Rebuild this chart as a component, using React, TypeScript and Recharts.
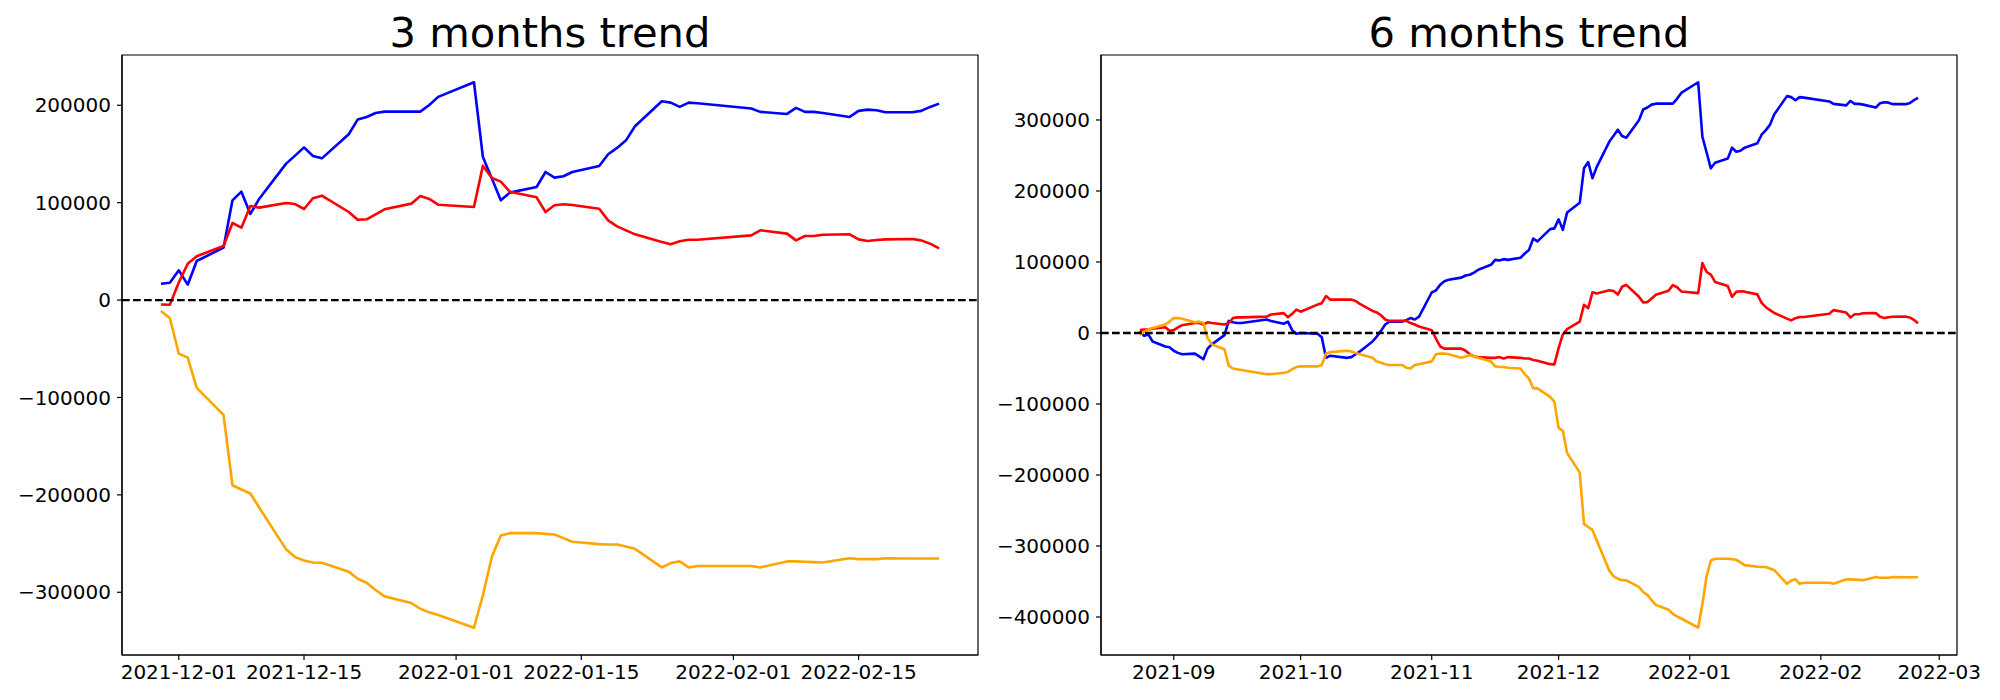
import React from 'react';
import { LineChart, Line, XAxis, YAxis, ReferenceLine, ReferenceArea } from 'recharts';

// ---------- 3 months data ----------
const dates3m = [
  '2021-11-29','2021-11-30','2021-12-01','2021-12-02','2021-12-03','2021-12-06','2021-12-07','2021-12-08','2021-12-09','2021-12-10',
  '2021-12-13','2021-12-14','2021-12-15','2021-12-16','2021-12-17','2021-12-20','2021-12-21','2021-12-22','2021-12-23','2021-12-24',
  '2021-12-27','2021-12-28','2021-12-29','2021-12-30','2022-01-03','2022-01-04','2022-01-05','2022-01-06','2022-01-07','2022-01-10',
  '2022-01-11','2022-01-12','2022-01-13','2022-01-14','2022-01-17','2022-01-18','2022-01-19','2022-01-20','2022-01-21','2022-01-24',
  '2022-01-25','2022-01-26','2022-01-27','2022-01-28','2022-02-03','2022-02-04','2022-02-07','2022-02-08','2022-02-09','2022-02-10',
  '2022-02-11','2022-02-14','2022-02-15','2022-02-16','2022-02-17','2022-02-18','2022-02-21','2022-02-22','2022-02-23','2022-02-24',
];
const blue3m = [
  16800,17800,30500,15800,40100,53800,102400,111300,88400,104100,
  140100,148300,156800,147900,145500,170200,185300,188000,192100,193500,
  193500,193500,200300,208600,223600,146900,124700,102400,110300,116100,
  131500,125700,127100,131500,137700,149700,156200,164000,178400,204100,
  202700,198300,202700,202000,196600,193200,191100,197300,193200,193200,
  192100,188000,194200,195500,194900,192800,192800,194200,198300,201700,
];
const red3m = [
  -4500,-4800,18000,37300,44900,55500,79100,74300,96600,94900,
  99700,98600,93500,104500,107200,90400,82500,82900,88000,93200,
  99000,106800,103800,97900,95500,138000,125300,121600,111300,105500,
  90400,97300,98300,97600,93800,81800,75700,71600,67500,59600,
  57200,60300,62000,62000,66400,71600,68200,61300,65800,65800,
  67100,67500,62300,60600,61600,62300,62700,61300,57900,53100,
];
const orange3m = [
  -11200,-18400,-55000,-59100,-90200,-117900,-190100,-194500,-198600,-213200,
  -256000,-263900,-267300,-269400,-269700,-279000,-286100,-290200,-297700,-304200,
  -311100,-316900,-320600,-323400,-336400,-302900,-263600,-241700,-239300,-239300,
  -240000,-240700,-244400,-248200,-250600,-250900,-250900,-252900,-255400,-274500,
  -270000,-268300,-274500,-273100,-273100,-274500,-268300,-268300,-268700,-269000,
  -269400,-265000,-266000,-266000,-266000,-265000,-265300,-265300,-265300,-265300,
];
const xTicks3m = ['2021-12-01','2021-12-15','2022-01-01','2022-01-15','2022-02-01','2022-02-15'];
const yTicks3m = [-300000,-200000,-100000,0,100000,200000];

// ---------- 6 months data ----------
const dates6m = [
  '2021-08-24','2021-08-25','2021-08-26','2021-08-27','2021-08-30','2021-08-31',
  '2021-09-01','2021-09-02','2021-09-03','2021-09-06','2021-09-07','2021-09-08','2021-09-09','2021-09-10','2021-09-13','2021-09-14',
  '2021-09-15','2021-09-16','2021-09-17','2021-09-23','2021-09-24','2021-09-27','2021-09-28','2021-09-29','2021-09-30',
  '2021-10-01','2021-10-05','2021-10-06','2021-10-07','2021-10-08','2021-10-12','2021-10-13','2021-10-14','2021-10-15','2021-10-18',
  '2021-10-19','2021-10-20','2021-10-21','2021-10-22','2021-10-25','2021-10-26','2021-10-27','2021-10-28','2021-10-29',
  '2021-11-01','2021-11-02','2021-11-03','2021-11-04','2021-11-05','2021-11-08','2021-11-09','2021-11-10','2021-11-11','2021-11-12',
  '2021-11-15','2021-11-16','2021-11-17','2021-11-18','2021-11-19','2021-11-22','2021-11-23','2021-11-24','2021-11-25','2021-11-26',
  '2021-11-29','2021-11-30',
  ...dates3m.slice(2),
];
const blue6m = [
  3000,-4000,-2000,-12000,-19000,-20000,
  -25000,-28000,-30000,-29000,-33000,-37000,-22000,-16000,-3000,17000,
  15000,14000,14000,19000,17000,13000,16000,4000,-1000,
  0,-1000,-6000,-35000,-32000,-35000,-34000,-30000,-26000,-12000,
  -5000,3000,12000,16000,16000,18000,21000,19000,23000,
  57000,60000,68000,73000,75000,78000,81000,82000,85000,89000,
  96000,103000,102000,104000,103000,106000,112000,117000,133000,129000,
  146300,147300,
  160000,145300,169600,183300,231900,240800,217900,233600,269600,277800,
  286300,277400,275000,299700,314800,317500,321600,323000,323000,323000,
  329800,338100,
  353100,276400,254200,231900,239800,245600,261000,255200,256600,261000,
  267200,279200,285700,293500,307900,333600,332200,327800,332200,331500,
  326100,322700,320600,326800,322700,322700,321600,317500,323700,325000,
  324400,322300,322300,323700,327800,331200,
];
const red6m = [
  4000,5000,5000,6000,8000,3000,
  4000,8000,11000,14000,14000,12000,15000,14000,12000,14000,
  21000,22000,22000,23000,26000,28000,22000,27000,33000,
  30000,40000,42000,52000,47000,47000,47000,45000,41000,31000,
  29000,25000,19000,17000,17000,17000,14000,12000,9000,
  4000,-8000,-19000,-22000,-22000,-22000,-25000,-30000,-33000,-34000,
  -35000,-35000,-34000,-36000,-34000,-35000,-36000,-36000,-38000,-39000,
  -43900,-44200,
  -21400,-2100,5500,16100,39700,34900,57200,55500,60300,59200,
  54100,65100,67800,51000,43100,43500,48600,53800,59600,67400,
  64400,58500,
  56100,98600,85900,82200,71900,66100,51000,57900,58900,58200,
  54400,42400,36300,32200,28100,20200,17800,20900,22600,22600,
  27000,32200,28800,21900,26400,26400,27700,28100,22900,21200,
  22200,22900,23300,21900,18500,13700,
];
const orange6m = [
  -3000,2000,5000,7000,12000,16000,
  21000,21000,20000,15000,16000,14000,-7000,-16000,-23000,-46000,
  -50000,-51000,-52000,-58000,-58000,-56000,-55000,-51000,-48000,
  -47000,-47000,-45000,-29000,-27000,-25000,-26000,-28000,-30000,-35000,
  -40000,-42000,-44000,-45000,-45000,-49000,-50000,-45000,-44000,
  -40000,-30000,-29000,-29000,-30000,-35000,-33000,-31000,-33000,-35000,
  -40000,-47000,-48000,-48000,-49000,-50000,-58000,-64000,-78000,-78000,
  -89900,-97100,
  -133700,-137800,-168900,-196600,-268800,-273200,-277300,-291900,-334700,-342600,
  -346000,-348100,-348400,-357700,-364800,-368900,-376400,-382900,-389800,-395600,
  -399300,-402100,
  -415100,-381600,-342300,-320400,-318000,-318000,-318700,-319400,-323100,-326900,
  -329300,-329600,-329600,-331600,-334100,-353200,-348700,-347000,-353200,-351800,
  -351800,-353200,-347000,-347000,-347400,-347700,-348100,-343700,-344700,-344700,
  -344700,-343700,-344000,-344000,-344000,-344000,
];
const xTicks6m = ['2021-09-01','2021-10-01','2021-11-01','2021-12-01','2022-01-01','2022-02-01','2022-03-01'];
const yTicks6m = [-400000,-300000,-200000,-100000,0,100000,200000,300000];

// ---------- helpers ----------
const FONT = '"DejaVu Sans", Verdana, sans-serif';
const DAY = 86400000;
const toDay = (s: string) => {
  const [y, m, d] = s.split('-').map(Number);
  return Date.UTC(y, m - 1, d) / DAY;
};
const pad2 = (n: number) => (n < 10 ? '0' + n : '' + n);
const fmtDate = (t: number, monthOnly: boolean) => {
  const dt = new Date(Math.round(t) * DAY);
  const s = dt.getUTCFullYear() + '-' + pad2(dt.getUTCMonth() + 1);
  return monthOnly ? s : s + '-' + pad2(dt.getUTCDate());
};
const fmtY = (v: number) => (v < 0 ? '\u2212' + Math.abs(v) : String(v));

const CHART_H = 700;
const MARGIN_TOP = 55;
const LW = 2.6;

type Props = {
  dates: string[];
  blue: number[];
  red: number[];
  orange: number[];
  xTicks: string[];
  yTicks: number[];
  monthOnly: boolean;
  left: number;
  width: number;
  yAxisWidth: number;
  marginRight: number;
};

function TrendChart(p: Props) {
  const rows = p.dates.map((d, i) => ({ t: toDay(d), blue: p.blue[i], red: p.red[i], orange: p.orange[i] }));
  const ts = rows.map((r) => r.t);
  const tMin = Math.min(...ts);
  const tMax = Math.max(...ts);
  const tPad = 0.05 * (tMax - tMin);
  const all = [...p.blue, ...p.red, ...p.orange];
  const vMin = Math.min(...all);
  const vMax = Math.max(...all);
  const vPad = 0.05 * (vMax - vMin);
  const xDomain: [number, number] = [tMin - tPad, tMax + tPad];
  const yDomain: [number, number] = [vMin - vPad, vMax + vPad];
  const tickStyle = { fontSize: 20, fill: '#000', fontFamily: FONT };
  const lineStyle = { stroke: '#000', strokeWidth: 1.2 };
  return (
    <div style={{ position: 'absolute', left: p.left, top: 0, width: p.width, height: CHART_H }}>
      <LineChart
        width={p.width}
        height={CHART_H}
        data={rows}
        margin={{ top: MARGIN_TOP, right: p.marginRight, bottom: 5, left: 0 }}
      >
        <XAxis
          dataKey="t"
          type="number"
          domain={xDomain}
          allowDataOverflow
          ticks={p.xTicks.map(toDay)}
          interval={0}
          tickFormatter={(t: number) => fmtDate(t, p.monthOnly)}
          height={40}
          tickSize={5}
          tickMargin={5}
          tick={tickStyle}
          axisLine={lineStyle}
          tickLine={lineStyle}
        />
        <YAxis
          type="number"
          domain={yDomain}
          allowDataOverflow
          ticks={p.yTicks}
          interval={0}
          tickFormatter={fmtY}
          width={p.yAxisWidth}
          tickSize={5}
          tickMargin={6}
          tick={tickStyle}
          axisLine={lineStyle}
          tickLine={lineStyle}
        />
        <ReferenceArea
          x1={xDomain[0]}
          x2={xDomain[1]}
          y1={yDomain[0]}
          y2={yDomain[1]}
          fill="none"
          fillOpacity={0}
          stroke="#000"
          strokeWidth={1.2}
          ifOverflow="visible"
        />
        <Line dataKey="blue" stroke="#0000ff" strokeWidth={LW} strokeLinejoin="round" dot={false} activeDot={false} isAnimationActive={false} />
        <Line dataKey="red" stroke="#ff0000" strokeWidth={LW} strokeLinejoin="round" dot={false} activeDot={false} isAnimationActive={false} />
        <Line dataKey="orange" stroke="#ffa500" strokeWidth={LW} strokeLinejoin="round" dot={false} activeDot={false} isAnimationActive={false} />
        <ReferenceLine y={0} stroke="#000" strokeWidth={2.3} strokeDasharray="7.7 3.3" />
      </LineChart>
    </div>
  );
}

const LEFT_W = 990;
const LEFT_Y = 122;
const LEFT_R = 12;
const RIGHT_X = 990;
const RIGHT_W = 1010;
const RIGHT_Y = 111;
const RIGHT_R = 43;

export default function App() {
  const leftCenter = (LEFT_Y + (LEFT_W - LEFT_R)) / 2;
  const rightCenter = RIGHT_X + (RIGHT_Y + (RIGHT_W - RIGHT_R)) / 2;
  return (
    <div style={{ position: 'fixed', left: 0, top: 0, width: 2000, height: 700, background: '#fff', fontFamily: FONT }}>
      <TrendChart
        dates={dates3m}
        blue={blue3m}
        red={red3m}
        orange={orange3m}
        xTicks={xTicks3m}
        yTicks={yTicks3m}
        monthOnly={false}
        left={0}
        width={LEFT_W}
        yAxisWidth={LEFT_Y}
        marginRight={LEFT_R}
      />
      <TrendChart
        dates={dates6m}
        blue={blue6m}
        red={red6m}
        orange={orange6m}
        xTicks={xTicks6m}
        yTicks={yTicks6m}
        monthOnly={true}
        left={RIGHT_X}
        width={RIGHT_W}
        yAxisWidth={RIGHT_Y}
        marginRight={RIGHT_R}
      />
      <svg width={2000} height={700} style={{ position: 'absolute', left: 0, top: 0, pointerEvents: 'none' }}>
        <text x={leftCenter} y={46.7} textAnchor="middle" fontSize={41.67} fontFamily={FONT} fill="#000">
          3 months trend
        </text>
        <text x={rightCenter} y={46.7} textAnchor="middle" fontSize={41.67} fontFamily={FONT} fill="#000">
          6 months trend
        </text>
      </svg>
    </div>
  );
}
